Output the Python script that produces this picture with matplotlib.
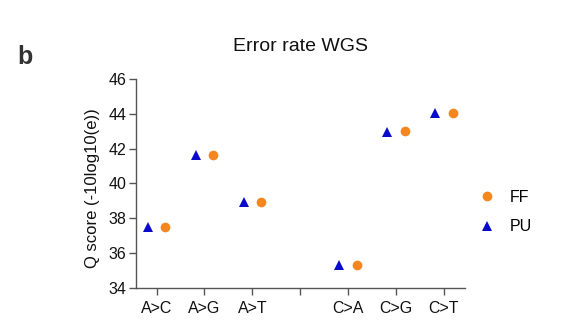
import numpy as np
import matplotlib
matplotlib.use("Agg")
import matplotlib.pyplot as plt

plt.rcParams['font.family'] = ['Liberation Sans', 'DejaVu Sans']

# categories (blank slot separates A>x and C>x groups)
categories = ["A>C", "A>G", "A>T", "", "C>A", "C>G", "C>T"]
groups = ["A>C", "A>G", "A>T", "C>A", "C>G", "C>T"]
ff_values = [37.53, 41.65, 38.94, 35.34, 43.0, 44.05]
pu_values = [37.50, 41.62, 38.92, 35.30, 42.96, 44.02]

ff_color = "#F5871F"
pu_color = "#0A0ACD"
axis_color = "#555555"

fig = plt.figure(figsize=(5.7, 3.29), dpi=100)
ax = fig.add_axes([0.2386, 0.1246, 0.5772, 0.6353])

pos = np.array([categories.index(g) for g in groups])
off = 0.185
ax.plot(pos + off, ff_values, 'o', color=ff_color, markersize=7,
        markeredgewidth=0, label="FF")
ax.plot(pos - off, pu_values, '^', color=pu_color, markersize=7,
        markeredgewidth=0, label="PU")

ax.set_xlim(-0.43, 6.44)
ax.set_ylim(34, 46)
ax.set_yticks(np.arange(34, 47, 2))
ax.set_xticks(range(len(categories)))
ax.set_xticklabels(categories)

for s in ["top", "right"]:
    ax.spines[s].set_visible(False)
for s in ["left", "bottom"]:
    ax.spines[s].set_color(axis_color)
    ax.spines[s].set_linewidth(1.0)
ax.tick_params(axis='both', colors=axis_color, labelcolor="#111111",
               labelsize=11.5, length=5, width=1.0, pad=2)
ax.tick_params(axis='x', pad=4.5)

# y label placed by hand to match the reference
fig.text(93 / 570, 1 - 188 / 329, "Q score (-10log10(e))", fontsize=12,
         rotation=90, ha='center', va='center', color="#111111")
fig.text(0.527, 0.860, "Error rate WGS", fontsize=14, ha='center', va='center',
         color="#111111")
fig.text(0.044, 0.828, "b", fontsize=18, fontweight='bold', ha='center',
         va='center', color="#333333")

leg = ax.legend(loc='center left', bbox_to_anchor=(1.0, 0.363), frameon=False,
                fontsize=11.5, handletextpad=0.4, labelspacing=0.9,
                borderaxespad=0)

fig.savefig("out.png", dpi=100, facecolor="white")
